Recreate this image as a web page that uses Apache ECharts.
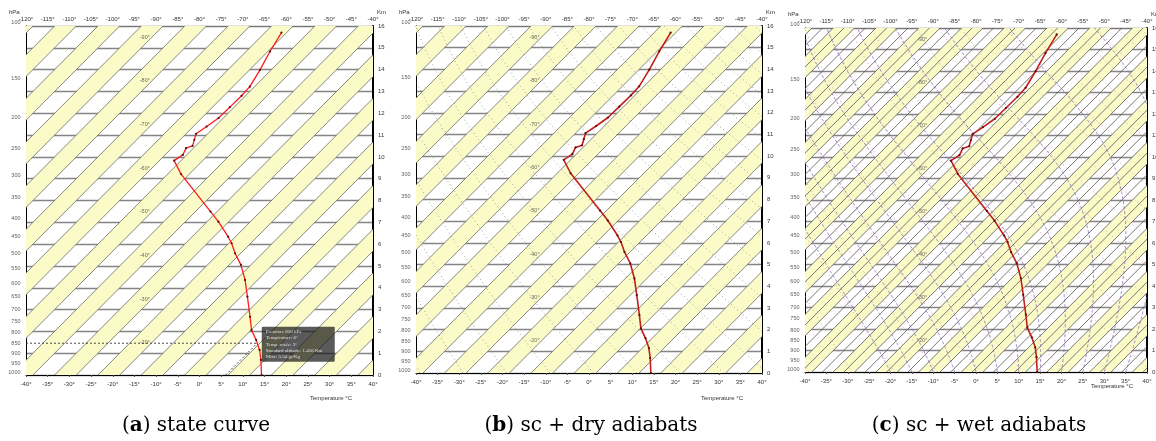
<!DOCTYPE html>
<html><head><meta charset="utf-8">
<script src="https://cdn.jsdelivr.net/npm/echarts@6/dist/echarts.min.js"></script>
<style>html,body{margin:0;padding:0;background:#fff}#c{width:1156px;height:441px}</style>
</head><body><div id="c"></div>
<script>
// ---------------- data ----------------
const stateAltitudeKm = [0.0, 0.69, 1.15, 1.61, 2.06, 2.67, 3.59, 4.36, 5.05, 5.58, 6.04, 6.34, 7.03, 7.49, 9.21, 9.83, 10.09, 10.40, 10.50, 10.78, 11.06, 11.39, 11.78, 12.28, 12.80, 13.22, 13.99, 14.83, 15.70];
const stateTemperatureC = [14.3, 10.7, 8.1, 5.0, 1.7, -1.7, -6.9, -11.3, -15.7, -19.7, -22.8, -25.1, -30.8, -34.9, -50.3, -55.0, -54.3, -55.1, -54.1, -55.1, -56.1, -55.3, -54.5, -54.4, -54.3, -54.5, -56.0, -57.9, -59.6];
const pressureTicksHpa = [100, 150, 200, 250, 300, 350, 400, 450, 500, 550, 600, 650, 700, 750, 800, 850, 900, 950, 1000];
const isothermLabelsC = [-20, -30, -40, -50, -60, -70, -80, -90];
const isothermStepC = [5, 5, 2.5];
const yellowBandStartsC = [-163.4, -153.4, -143.4, -133.4, -123.4, -113.4, -103.4, -93.4, -83.4, -73.4, -63.4, -53.4, -43.4, -33.4, -23.4, -13.4, -3.4, 6.6, 16.6, 26.6, 36.6];
const isothermLineStartC = -168.4;
const dryAdiabatThetaC = [-40, -30, -20, -10, 0, 10, 20, 30, 40, 50, 60, 70, 80, 90, 100, 110, 120, 130, 140, 150, 160, 170, 180, 190, 200];
const wetAdiabatStartC = [-20, -15, -10, -5, 0, 5, 10, 15, 20, 25, 30, 35, 40];
const probePressureHpa = 850;
const probeLines = ['Pression: 850 hPa', 'Température: 6°', 'Temp. rosée: 3°', 'Standard altitude: 1.456 Km', 'Mixr: 5.54 gr/Kg'];
const captionLetters = ['a', 'b', 'c'];
const captionTexts = [' state curve', ' sc + dry adiabats', ' sc + wet adiabats'];

// ---------------- scales ----------------
const SKEW = 5, HMAX = 16, XMIN = -40, XMAX = 40, BAND = 5;
const skewX = (t, h) => t + SKEW * h;
function altFromP(p) { return p >= 226.32 ? 44.3308 * (1 - Math.pow(p / 1013.25, 0.190263)) : 11 + 6.3416 * Math.log(226.32 / p); }
function pFromAlt(h) { return h <= 11 ? 1013.25 * Math.pow(1 - h / 44.3308, 1 / 0.190263) : 226.32 * Math.exp(-(h - 11) / 6.3416); }
function tempAt(h) {
  for (let i = 0; i < stateAltitudeKm.length - 1; i++) {
    const a = stateAltitudeKm[i], b = stateAltitudeKm[i + 1];
    if (h >= a && h <= b) return stateTemperatureC[i] + (stateTemperatureC[i + 1] - stateTemperatureC[i]) * (h - a) / (b - a);
  }
  return stateTemperatureC[0];
}
function dryCurve(thetaC) {
  const pts = [];
  for (let h = 0; h <= HMAX + 0.01; h += 0.2) {
    const t = (thetaC + 273.15) * Math.pow(pFromAlt(h) / 1000, 0.2857) - 273.15;
    pts.push([skewX(t, h), h]);
  }
  return pts;
}
function wetCurve(t0C) {
  const Rd = 287.04, Cp = 1005.7, Lv = 2.501e6, eps = 0.622;
  const f = (p, T) => {
    const es = 6.112 * Math.exp(17.67 * (T - 273.15) / (T - 29.65));
    const rs = eps * es / (p - es);
    return (1 / p) * (Rd * T + Lv * rs) / (Cp + (Lv * Lv * rs * eps) / (Rd * T * T));
  };
  let p = 1013.25, T = t0C + 273.15;
  const pts = [[skewX(t0C, 0), 0]];
  const dp = -5;
  while (p + dp >= 95) {
    const k1 = f(p, T), k2 = f(p + dp / 2, T + k1 * dp / 2), k3 = f(p + dp / 2, T + k2 * dp / 2), k4 = f(p + dp, T + k3 * dp);
    T += dp * (k1 + 2 * k2 + 2 * k3 + k4) / 6; p += dp;
    const h = altFromP(p);
    pts.push([skewX(T - 273.15, h), h]);
  }
  return pts;
}

// ---------------- layout ----------------
const panels = [
  { left: 26, top: 26, width: 347, height: 349, cap: 196, tLabel: [331, 398] },
  { left: 416, top: 26, width: 346, height: 347, cap: 591, tLabel: [722, 398] },
  { left: 805, top: 28, width: 342, height: 344, cap: 979, tLabel: [1112, 386] }
];
const FONT = '"Liberation Sans", Arial, sans-serif';
const TICK = { fontSize: 6, color: '#333', fontFamily: FONT };
const grids = [], xAxes = [], yAxes = [], series = [], graphics = [];

panels.forEach((P, i) => {
  grids.push({ left: P.left, top: P.top, width: P.width, height: P.height, containLabel: false, outerBoundsMode: 'none', show: false });
  xAxes.push({ gridIndex: i, type: 'value', min: XMIN, max: XMAX, interval: 5, position: 'bottom',
    axisLine: { onZero: false, lineStyle: { color: '#000', width: 1 } }, axisTick: { show: true, length: 2, lineStyle: { color: '#555' } },
    axisLabel: Object.assign({ formatter: v => v + '°', margin: 6 }, TICK), splitLine: { show: false } });
  xAxes.push({ gridIndex: i, type: 'value', min: XMIN - SKEW * HMAX, max: XMAX - SKEW * HMAX, interval: 5, position: 'top',
    axisLine: { onZero: false, lineStyle: { color: '#777', width: 1 } }, axisTick: { show: false },
    axisLabel: Object.assign({ formatter: v => v + '°', margin: 4 }, TICK), splitLine: { show: false } });
  yAxes.push({ gridIndex: i, type: 'value', min: 0, max: HMAX, interval: 1, position: 'left',
    axisLine: { onZero: false, lineStyle: { color: '#000', width: 1 } }, axisTick: { show: false }, axisLabel: { show: false },
    splitLine: { show: true, lineStyle: { color: '#858585', width: 1.3 } } });
  yAxes.push({ gridIndex: i, type: 'value', min: 0, max: HMAX, interval: 1, position: 'right',
    axisLine: { onZero: false, lineStyle: { color: '#000', width: 2 } }, axisTick: { show: false },
    axisLabel: Object.assign({ margin: 5 }, TICK), splitLine: { show: false } });
  const xi = 2 * i, yi = 2 * i;

  // yellow bands
  series.push({ type: 'custom', xAxisIndex: xi, yAxisIndex: yi, clip: true, silent: true, z: 1,
    data: yellowBandStartsC.map(t => [t, 0]), encode: { x: 0, y: 1 },
    renderItem: (params, api) => {
      const t0 = api.value(0);
      const pts = [[t0, 0], [t0 + BAND, 0], [skewX(t0 + BAND, HMAX), HMAX], [skewX(t0, HMAX), HMAX]].map(p => api.coord(p));
      return { type: 'polygon', shape: { points: pts }, style: { fill: '#fbfbc8' } };
    } });
  // isotherms
  const isos = [];
  for (let t = isothermLineStartC; t <= 45; t += isothermStepC[i]) isos.push([t, 0]);
  series.push({ type: 'custom', xAxisIndex: xi, yAxisIndex: yi, clip: true, silent: true, z: 2,
    data: isos, encode: { x: 0, y: 1 },
    renderItem: (params, api) => {
      const t = api.value(0);
      const a = api.coord([t, 0]), b = api.coord([skewX(t, HMAX), HMAX]);
      return { type: 'line', shape: { x1: a[0], y1: a[1], x2: b[0], y2: b[1] }, style: { stroke: i === 2 ? '#555' : '#6a6a6a', lineWidth: 0.8 } };
    } });
  // dry adiabats (b, c)
  if (i >= 1) {
    series.push({ type: 'custom', xAxisIndex: xi, yAxisIndex: yi, clip: true, silent: true, z: 3,
      data: dryAdiabatThetaC.map(t => [t, 0]), encode: { x: 0, y: 1 },
      renderItem: (params, api) => {
        const pts = dryCurve(api.value(0)).map(p => api.coord(p));
        return { type: 'polyline', shape: { points: pts }, style: { stroke: i === 1 ? '#8a8a8a' : '#d08aa0', lineWidth: 0.8, lineDash: [1, 3], fill: null } };
      } });
  }
  if (i === 2) {
    series.push({ type: 'custom', xAxisIndex: xi, yAxisIndex: yi, clip: true, silent: true, z: 3,
      data: wetAdiabatStartC.map(t => [t, 0]), encode: { x: 0, y: 1 },
      renderItem: (params, api) => {
        const pts = wetCurve(api.value(0)).map(p => api.coord(p));
        return { type: 'polyline', shape: { points: pts }, style: { stroke: '#8a6ac0', lineWidth: 0.8, lineDash: [3, 2], fill: null } };
      } });
  }
  // isotherm labels
  const labelX = -12.6;
  series.push({ type: 'scatter', xAxisIndex: xi, yAxisIndex: yi, z: 6, silent: true, symbolSize: 1,
    itemStyle: { color: 'rgba(0,0,0,0)' },
    data: isothermLabelsC.map(t => ({ value: [labelX, (labelX - t) / SKEW], name: t + '°' })),
    label: { show: true, position: 'inside', formatter: p => p.name, fontSize: 5.5, color: '#444', fontFamily: FONT } });
  // pressure labels
  series.push({ type: 'scatter', xAxisIndex: xi, yAxisIndex: yi, z: 6, silent: true, symbolSize: 1, clip: false,
    itemStyle: { color: 'rgba(0,0,0,0)' },
    data: pressureTicksHpa.map(p => ({ value: [XMIN, altFromP(p)], name: String(p) })),
    label: Object.assign({ show: true, position: 'left', distance: 5, formatter: p => p.name }, TICK, { fontSize: 5.5 }) });
  // state curve
  series.push({ type: 'line', xAxisIndex: xi, yAxisIndex: yi, z: 8, silent: true,
    data: stateAltitudeKm.map((h, k) => [skewX(stateTemperatureC[k], h), h]),
    lineStyle: { color: i === 0 ? '#ff1a1a' : '#c0201a', width: i === 0 ? 1.3 : 1.6 },
    symbol: 'circle', symbolSize: 2.2, itemStyle: { color: '#5a1010' } });

  if (i === 0) {
    const ph = altFromP(probePressureHpa), pt = tempAt(ph);
    series.push({ type: 'line', xAxisIndex: xi, yAxisIndex: yi, z: 7, silent: true, symbol: 'none',
      data: [[XMIN, ph], [skewX(pt, ph), ph]], lineStyle: { color: '#333', width: 0.9, type: [2, 2] } });
    series.push({ type: 'line', xAxisIndex: xi, yAxisIndex: yi, z: 7, silent: true, symbol: 'none',
      data: [[skewX(pt, 0), 0], [skewX(pt, ph), ph]], lineStyle: { color: '#333', width: 0.9, type: [2, 2] } });
    series.push({ type: 'scatter', xAxisIndex: xi, yAxisIndex: yi, z: 10, silent: true, symbolSize: 1,
      itemStyle: { color: 'rgba(0,0,0,0)' }, data: [[skewX(pt, ph), ph]],
      label: { show: true, position: [5, -16], formatter: probeLines.join('\n'), backgroundColor: 'rgba(20,20,20,0.88)',
        color: '#fff', fontSize: 5, lineHeight: 6.2, padding: [2, 5, 2, 4], width: 64, fontFamily: '"Liberation Serif", serif', borderRadius: 1 } });
  }

  graphics.push({ type: 'text', x: P.left - 17, y: P.top - 17, style: { text: 'hPa', fontSize: 6, fill: '#333', fontFamily: FONT } });
  graphics.push({ type: 'text', x: P.left + P.width + 4, y: P.top - 17, style: { text: 'Km', fontSize: 6, fill: '#333', fontFamily: FONT } });
  graphics.push({ type: 'text', x: P.tLabel[0], y: P.tLabel[1], style: { text: 'Temperature °C', fontSize: 6, fill: '#333', fontFamily: FONT, align: 'center', verticalAlign: 'middle' } });
  graphics.push({ type: 'text', x: P.cap, y: 426, style: { text: '({b|' + captionLetters[i] + '})' + captionTexts[i],
    rich: { b: { fontWeight: 'bold', fontSize: 20, fontFamily: '"DejaVu Serif", serif', fill: '#000' } },
    fontSize: 20, fill: '#000', fontFamily: '"DejaVu Serif", serif', align: 'center', verticalAlign: 'middle' } });
});

const chart = echarts.init(document.getElementById('c'), null, { renderer: 'canvas' });
chart.setOption({ animation: false, backgroundColor: '#fff', grid: grids, xAxis: xAxes, yAxis: yAxes, series: series, graphic: graphics });
</script></body></html>
